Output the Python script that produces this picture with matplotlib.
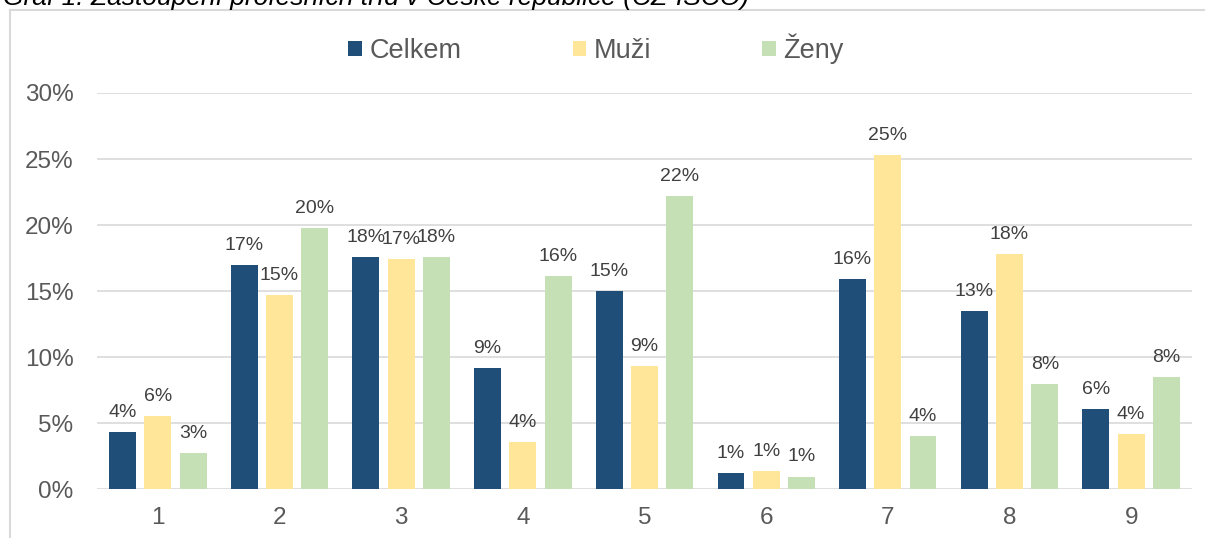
import matplotlib
matplotlib.use("Agg")
import matplotlib.pyplot as plt
from matplotlib.lines import Line2D
import numpy as np

plt.rcParams['font.family'] = ['Liberation Sans', 'DejaVu Sans']

categories = ['1', '2', '3', '4', '5', '6', '7', '8', '9']
series_names = ['Celkem', 'Muži', 'Ženy']
celkem = [4.3, 16.97, 17.55, 9.19, 14.99, 1.22, 15.9, 13.45, 6.07]
muzi = [5.55, 14.7, 17.45, 3.55, 9.32, 1.34, 25.3, 17.8, 4.17]
zeny = [2.75, 19.8, 17.55, 16.15, 22.2, 0.94, 4.04, 7.94, 8.49]
colors = ['#1F4E79', '#FFE699', '#C5E0B4']
title = 'Graf 1: Zastoupení profesních tříd v České republice (CZ-ISCO)'

W, H = 1205, 538
fig = plt.figure(figsize=(W / 100, H / 100), dpi=100)
ax = fig.add_axes([97 / W, (H - 489) / H, (1192 - 97) / W, (489 - 93) / H])

x = np.arange(len(categories))
width = 0.22
step = 0.29
for i, (vals, name, col) in enumerate(zip([celkem, muzi, zeny], series_names, colors)):
    bars = ax.bar(x + (i - 1) * step, vals, width, color=col, label=name, zorder=3)
    ax.bar_label(bars, labels=[f'{v:.0f}%' for v in vals], padding=8,
                 fontsize=14, color='#404040')

ax.set_xlim(-0.5, len(categories) - 0.5)
ax.set_ylim(0, 30)
ax.set_yticks(np.arange(0, 31, 5))
ax.set_yticklabels([f'{t}%' for t in range(0, 31, 5)])
ax.set_xticks(x)
ax.set_xticklabels(categories)
ax.tick_params(axis='both', length=0, labelsize=17.5, colors='#595959')
ax.tick_params(axis='y', pad=17)
ax.tick_params(axis='x', pad=13)
ax.grid(axis='y', color='#D9D9D9', linewidth=1.2, zorder=0)
for s in ax.spines.values():
    s.set_visible(False)

fig.legend(loc='center', bbox_to_anchor=(596 / W, 1 - 49 / H), ncol=3,
           frameon=False, fontsize=19.5, handlelength=0.5, handleheight=0.5,
           handletextpad=0.28, columnspacing=4.1, labelcolor='#595959')

# chart border
fig.add_artist(Line2D([10 / W, 10 / W], [0, 1 - 10 / H], color='#D9D9D9', lw=1.5,
                      transform=fig.transFigure))
fig.add_artist(Line2D([10 / W, 1], [1 - 10 / H, 1 - 10 / H], color='#D9D9D9', lw=1.5,
                      transform=fig.transFigure))

fig.text(3 / W, 1 - 5 / H, title, fontsize=19, style='italic', color='#000000',
         va='baseline', ha='left')

fig.savefig('out.png', dpi=100)
